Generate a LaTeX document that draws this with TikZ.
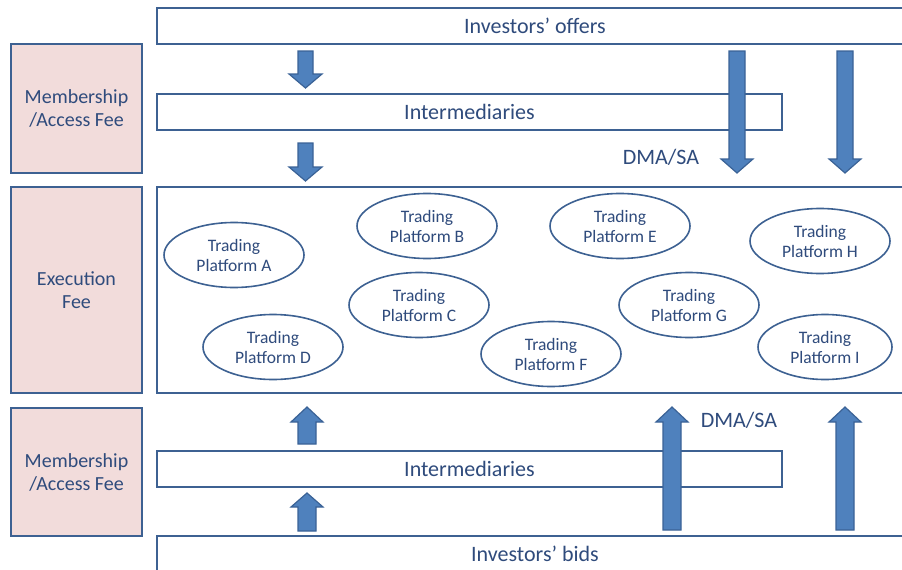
\documentclass[tikz,border=0pt]{standalone}
\usepackage{fontspec}
\setmainfont{Carlito}
\usetikzlibrary{shapes.geometric}
\definecolor{boxline}{HTML}{3D6192}
\definecolor{txt}{HTML}{2F4B7C}
\definecolor{pinkfill}{HTML}{F2DCDB}
\definecolor{arrfill}{HTML}{4F81BD}
\definecolor{arrline}{HTML}{3A6296}
\newcommand\blockdown[6]{% xc, ytop, yhead, ytip, half shaft, half head
  \draw[arrowshape] (#1-#5,#2) -- (#1+#5,#2) -- (#1+#5,#3) -- (#1+#6,#3) -- (#1,#4) -- (#1-#6,#3) -- (#1-#5,#3) -- cycle;}
\begin{document}
\begin{tikzpicture}[x=1pt,y=-1pt,
  bigtext/.style={font=\fontsize{22}{25}\selectfont, text=txt},
  flowbox/.style={draw=boxline, line width=1.6pt, fill=white, inner sep=0pt, bigtext},
  feebox/.style={draw=boxline, line width=1.6pt, fill=pinkfill, inner sep=0pt, align=center,
    minimum width=131pt, font=\fontsize{20}{23}\selectfont, text=txt},
  platform/.style={ellipse, draw=boxline, line width=1.6pt, fill=white, inner sep=0pt,
    minimum width=140pt, minimum height=65pt, align=center,
    font=\fontsize{17.5}{20}\selectfont, text=txt},
  arrowshape/.style={fill=arrfill, draw=arrline, line width=1.2pt, line join=miter}]
\useasboundingbox (0,0) rectangle (902,570);
% fee boxes
\node[feebox, minimum height=129pt] (fee1) at (76.5,108.5) {Membership\\/Access Fee};
\node[feebox, minimum height=206pt] (fee2) at (76.5,290) {Execution\\Fee};
\node[feebox, minimum height=128pt] (fee3) at (76.5,472) {Membership\\/Access Fee};
% flow boxes
\node[flowbox, minimum width=756pt, minimum height=36pt] (offers) at (535,26) {Investors’ offers};
\node[flowbox, minimum width=625pt, minimum height=36pt] (intertop) at (469.5,112) {Intermediaries};
\node[flowbox, minimum width=756pt, minimum height=206pt] (exec) at (535,290) {};
\node[flowbox, minimum width=625pt, minimum height=36pt] (interbot) at (469.5,469) {Intermediaries};
\node[flowbox, minimum width=756pt, minimum height=36pt] (bids) at (535,554) {Investors’ bids};
% platforms
\node[platform] (pa) at (234,255) {Trading\\Platform A};
\node[platform] (pb) at (427,226) {Trading\\Platform B};
\node[platform] (pc) at (419,305) {Trading\\Platform C};
\node[platform] (pd) at (273,347) {Trading\\Platform D};
\node[platform] (pe) at (620,226) {Trading\\Platform E};
\node[platform] (pf) at (551,354) {Trading\\Platform F};
\node[platform] (pg) at (689,305) {Trading\\Platform G};
\node[platform] (ph) at (820,241) {Trading\\Platform H};
\node[platform, minimum width=134pt] (pi) at (825,347) {Trading\\Platform I};
% DMA labels
\node[bigtext] (dmatop) at (661,157) {DMA/SA};
\node[bigtext] (dmabot) at (739,420) {DMA/SA};
% arrows down
\blockdown{305.5}{51}{74}{88}{7.5}{16.5}
\blockdown{305.5}{143}{167}{181}{7.5}{16.5}
\blockdown{737}{51}{159}{173}{8}{16}
\blockdown{845}{51}{159}{173}{8}{16}
% arrows up
\blockdown{307}{531}{507}{493}{9}{16}
\blockdown{307}{444}{422}{407}{9}{16}
\blockdown{672}{530}{422}{407}{9}{16}
\blockdown{845}{530}{422}{407}{9}{16}
\end{tikzpicture}
\end{document}
